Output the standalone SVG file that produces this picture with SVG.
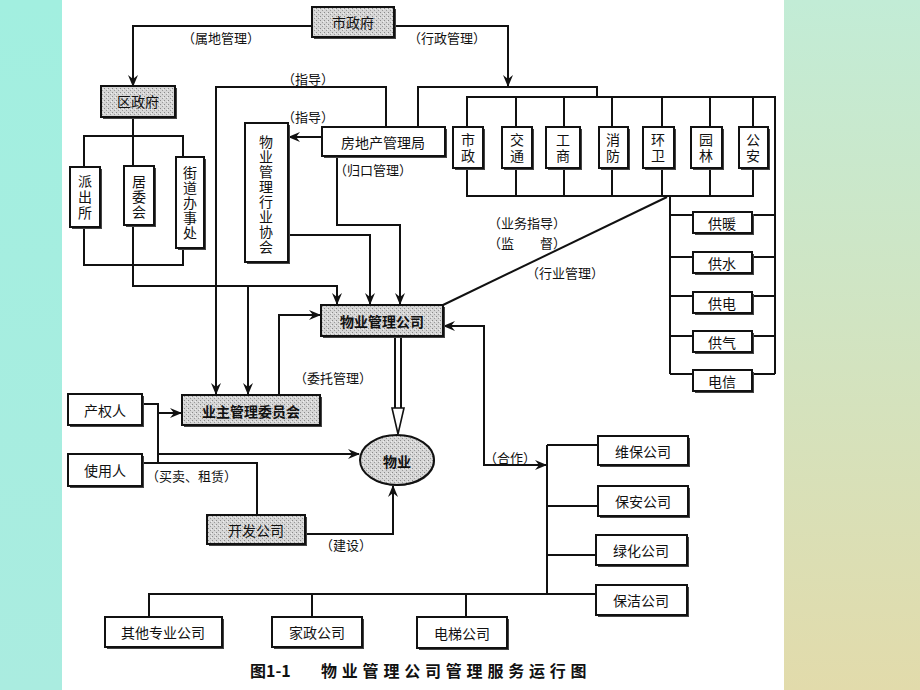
<svg xmlns="http://www.w3.org/2000/svg" width="920" height="690" viewBox="0 0 920 690">
<defs>
<linearGradient id="rg" x1="0" y1="0" x2="0" y2="1">
<stop offset="0" stop-color="#c2ecd6"/>
<stop offset="1" stop-color="#e2dbab"/>
</linearGradient>
<linearGradient id="lg" x1="0" y1="0" x2="0" y2="1">
<stop offset="0" stop-color="#a2efe0"/>
<stop offset="1" stop-color="#aaece0"/>
</linearGradient>
<pattern id="stip" width="4" height="4" patternUnits="userSpaceOnUse">
<rect width="4" height="4" fill="#d6d6d6"/>
<rect x="0" y="0" width="1" height="1" fill="#8a8a8a"/>
<rect x="2" y="2" width="1" height="1" fill="#9a9a9a"/>
<rect x="3" y="1" width="1" height="1" fill="#eeeeee"/>
</pattern>
<marker id="ar" viewBox="0 0 12 10" refX="11" refY="5" markerWidth="12" markerHeight="10" markerUnits="userSpaceOnUse" orient="auto-start-reverse">
<path d="M0,0 L12,5 L0,10 L4,5 Z" fill="#111"/>
</marker>
<style>
.ln{fill:none;stroke:#111;stroke-width:2}
.bx{fill:#fff;stroke:#111;stroke-width:2}
.sh{fill:url(#stip);stroke:#111;stroke-width:2}
.sd{fill:#444}
.t{font-family:"Noto Sans CJK SC","Noto Sans",sans-serif;font-size:14px;fill:#111;text-anchor:middle;dominant-baseline:central}
.v{font-family:"Noto Sans CJK SC","Noto Sans",sans-serif;font-size:14px;fill:#111;text-anchor:middle;writing-mode:vertical-rl}
.b{font-weight:bold}
.lb{font-family:"Noto Sans CJK SC","Noto Sans",sans-serif;font-size:13px;fill:#111}
.cap{font-family:"Noto Sans CJK SC","Noto Sans",sans-serif;font-size:16px;fill:#111;font-weight:bold}
</style>
</defs>
<rect x="0" y="0" width="920" height="690" fill="url(#lg)"/>
<rect x="784" y="0" width="136" height="690" fill="url(#rg)"/>
<rect x="62" y="0" width="722" height="690" fill="#fff"/>

<g id="connectors">
<path class="ln" d="M312,26 H133 V86" marker-end="url(#ar)"/>
<path class="ln" d="M394,26 H508 V86" marker-end="url(#ar)"/>
<path class="ln" d="M418,127 V87 H597 V97"/>
<path class="ln" d="M467,127 V97 H775 V374"/>
<path class="ln" d="M516,97 V127 M564,97 V127 M612,97 V127 M662,97 V127 M710,97 V127 M753,97 V127"/>
<path class="ln" d="M467,168 V196 H753 V168 M516,168 V196 M564,168 V196 M612,168 V196 M662,168 V196 M710,168 V196"/>
<path class="ln" d="M670,196 V374"/>
<path class="ln" d="M670,215 H693 M752,215 H775 M670,257 H693 M752,257 H775 M670,296 H693 M752,296 H775 M670,336 H693 M752,336 H775 M670,374 H693 M752,374 H775"/>
<path class="ln" d="M667,197 L443,305"/>
<path class="ln" d="M386,127 V87 H216 V394" marker-end="url(#ar)"/>
<path class="ln" d="M322,137 H289" marker-end="url(#ar)"/>
<path class="ln" d="M337,156 V225 H400 V304" marker-end="url(#ar)"/>
<path class="ln" d="M288,235 H370 V304" marker-end="url(#ar)"/>
<path class="ln" d="M133,117 V166 M84,167 V136 H183 V157"/>
<path class="ln" d="M84,227 V265 H183 V248"/>
<path class="ln" d="M133,225 V286 H337 V304" marker-end="url(#ar)"/>
<path class="ln" d="M248,286 V394" marker-end="url(#ar)"/>
<path class="ln" d="M279,395 V315 H320" marker-end="url(#ar)"/>
<path class="ln" d="M395,337 V410 M401,337 V410"/>
<path d="M392,408 L398,434 L404,408 Z" fill="#fff" stroke="#111" stroke-width="1.6"/>
<path class="ln" d="M142,404 H158 V463"/>
<path class="ln" d="M158,413 H181" marker-end="url(#ar)"/>
<path class="ln" d="M158,454 H359" marker-end="url(#ar)"/>
<path class="ln" d="M142,463 H257 V515"/>
<path class="ln" d="M305,534 H393 V486" marker-end="url(#ar)"/>
<path class="ln" d="M444,326 H484 V465 H546" marker-start="url(#ar)" marker-end="url(#ar)"/>
<path class="ln" d="M547,445 V594 M547,445 H598 M547,506 H598 M547,555 H596 M547,594 H596"/>
<path class="ln" d="M149,617 V594 H547 M312,594 V617 M466,594 V617"/>
</g>

<g id="n-shizhengfu"><rect class="sd" x="314" y="9" width="82" height="30"/><rect class="sh" x="312" y="7" width="82" height="30"/><text class="t" x="353" y="22">市政府</text></g>
<g id="n-quzhengfu"><rect class="sd" x="103" y="88" width="74" height="31"/><rect class="sh" x="101" y="86" width="74" height="31"/><text class="t" x="138" y="101">区政府</text></g>
<g id="n-paichusuo"><rect class="sd" x="72" y="169" width="30" height="60"/><rect class="bx" x="70" y="167" width="30" height="60"/><text class="v" x="85" y="198" letter-spacing="2">派出所</text></g>
<g id="n-juweihui"><rect class="sd" x="126" y="168" width="30" height="59"/><rect class="bx" x="124" y="166" width="30" height="59"/><text class="v" x="139" y="197" letter-spacing="1">居委会</text></g>
<g id="n-jiedao"><rect class="sd" x="178" y="159" width="28" height="91"/><rect class="bx" x="176" y="157" width="28" height="91"/><text class="v" x="190" y="203" letter-spacing="1">街道办事处</text></g>
<g id="n-xiehui"><rect class="sd" x="247" y="125" width="43" height="139"/><rect class="bx" x="245" y="123" width="43" height="139"/><text class="v" x="266" y="195" letter-spacing="1">物业管理行业协会</text></g>
<g id="n-fangdichan"><rect class="sd" x="324" y="129" width="123" height="29"/><rect class="bx" x="322" y="127" width="123" height="29"/><text class="t" x="383" y="142">房地产管理局</text></g>
<g id="n-shizheng"><rect class="sd" x="455" y="129" width="30" height="41"/><rect class="bx" x="453" y="127" width="30" height="41"/><text class="v" x="468" y="149" letter-spacing="2">市政</text></g>
<g id="n-jiaotong"><rect class="sd" x="504" y="129" width="30" height="41"/><rect class="bx" x="502" y="127" width="30" height="41"/><text class="v" x="517" y="149" letter-spacing="2">交通</text></g>
<g id="n-gongshang"><rect class="sd" x="548" y="129" width="34" height="41"/><rect class="bx" x="546" y="127" width="34" height="41"/><text class="v" x="563" y="149" letter-spacing="2">工商</text></g>
<g id="n-xiaofang"><rect class="sd" x="601" y="129" width="29" height="41"/><rect class="bx" x="599" y="127" width="29" height="41"/><text class="v" x="613" y="149" letter-spacing="2">消防</text></g>
<g id="n-huanwei"><rect class="sd" x="645" y="129" width="31" height="41"/><rect class="bx" x="643" y="127" width="31" height="41"/><text class="v" x="658" y="149" letter-spacing="2">环卫</text></g>
<g id="n-yuanlin"><rect class="sd" x="693" y="129" width="31" height="41"/><rect class="bx" x="691" y="127" width="31" height="41"/><text class="v" x="706" y="149" letter-spacing="2">园林</text></g>
<g id="n-gongan"><rect class="sd" x="741" y="129" width="29" height="41"/><rect class="bx" x="739" y="127" width="29" height="41"/><text class="v" x="753" y="149" letter-spacing="2">公安</text></g>
<g id="n-gongnuan"><rect class="sd" x="695" y="214" width="59" height="21"/><rect class="bx" x="693" y="212" width="59" height="21"/><text class="t" x="722" y="223">供暖</text></g>
<g id="n-gongshui"><rect class="sd" x="695" y="254" width="59" height="21"/><rect class="bx" x="693" y="252" width="59" height="21"/><text class="t" x="722" y="263">供水</text></g>
<g id="n-gongdian"><rect class="sd" x="695" y="294" width="59" height="21"/><rect class="bx" x="693" y="292" width="59" height="21"/><text class="t" x="722" y="303">供电</text></g>
<g id="n-gongqi"><rect class="sd" x="695" y="333" width="59" height="21"/><rect class="bx" x="693" y="331" width="59" height="21"/><text class="t" x="722" y="342">供气</text></g>
<g id="n-dianxin"><rect class="sd" x="695" y="372" width="59" height="21"/><rect class="bx" x="693" y="370" width="59" height="21"/><text class="t" x="722" y="381">电信</text></g>
<g id="n-wuyegongsi"><rect class="sd" x="323" y="307" width="122" height="31"/><rect class="sh" x="321" y="305" width="122" height="31"/><text class="t b" x="382" y="321">物业管理公司</text></g>
<g id="n-yezhu"><rect class="sd" x="184" y="397" width="138" height="30"/><rect class="sh" x="182" y="395" width="138" height="30"/><text class="t b" x="251" y="411">业主管理委员会</text></g>
<g id="n-chanquanren"><rect class="sd" x="70" y="396" width="74" height="31"/><rect class="bx" x="68" y="394" width="74" height="31"/><text class="t" x="105" y="410">产权人</text></g>
<g id="n-shiyongren"><rect class="sd" x="70" y="456" width="74" height="32"/><rect class="bx" x="68" y="454" width="74" height="32"/><text class="t" x="105" y="470">使用人</text></g>
<g id="n-kaifa"><rect class="sd" x="209" y="517" width="98" height="29"/><rect class="sh" x="207" y="515" width="98" height="29"/><text class="t" x="256" y="530">开发公司</text></g>
<g id="n-wuye"><ellipse cx="398" cy="461" rx="37" ry="25" fill="#444"/><ellipse class="sh" cx="397" cy="460" rx="37" ry="25"/><text class="t b" x="397" y="461">物业</text></g>
<g id="n-weibao"><rect class="sd" x="600" y="438" width="90" height="29"/><rect class="bx" x="598" y="436" width="90" height="29"/><text class="t" x="643" y="451">维保公司</text></g>
<g id="n-baoan"><rect class="sd" x="600" y="488" width="90" height="30"/><rect class="bx" x="598" y="486" width="90" height="30"/><text class="t" x="643" y="501">保安公司</text></g>
<g id="n-lvhua"><rect class="sd" x="598" y="537" width="91" height="30"/><rect class="bx" x="596" y="535" width="91" height="30"/><text class="t" x="641" y="550">绿化公司</text></g>
<g id="n-baojie"><rect class="sd" x="598" y="587" width="91" height="30"/><rect class="bx" x="596" y="585" width="91" height="30"/><text class="t" x="641" y="600">保洁公司</text></g>
<g id="n-qita"><rect class="sd" x="107" y="619" width="117" height="30"/><rect class="bx" x="105" y="617" width="117" height="30"/><text class="t" x="163" y="632">其他专业公司</text></g>
<g id="n-jiazheng"><rect class="sd" x="274" y="619" width="90" height="30"/><rect class="bx" x="272" y="617" width="90" height="30"/><text class="t" x="317" y="632">家政公司</text></g>
<g id="n-dianti"><rect class="sd" x="419" y="619" width="90" height="31"/><rect class="bx" x="417" y="617" width="90" height="31"/><text class="t" x="462" y="633">电梯公司</text></g>

<g id="labels">
<text class="lb" x="182" y="43">（属地管理）</text>
<text class="lb" x="408" y="43">（行政管理）</text>
<text class="lb" x="282" y="84">（指导）</text>
<text class="lb" x="282" y="122">（指导）</text>
<text class="lb" x="334" y="175">（归口管理）</text>
<text class="lb" x="488" y="228">（业务指导）</text>
<text class="lb" x="488" y="248">（监　　督）</text>
<text class="lb" x="526" y="278">（行业管理）</text>
<text class="lb" x="294" y="383">（委托管理）</text>
<text class="lb" x="484" y="463">（合作）</text>
<text class="lb" x="146" y="481">（买卖、租赁）</text>
<text class="lb" x="320" y="550">（建设）</text>
<text class="cap" x="250" y="677">图1-1</text>
<text class="cap" x="321" y="677" letter-spacing="4.8">物业管理公司管理服务运行图</text>
</g>
</svg>
